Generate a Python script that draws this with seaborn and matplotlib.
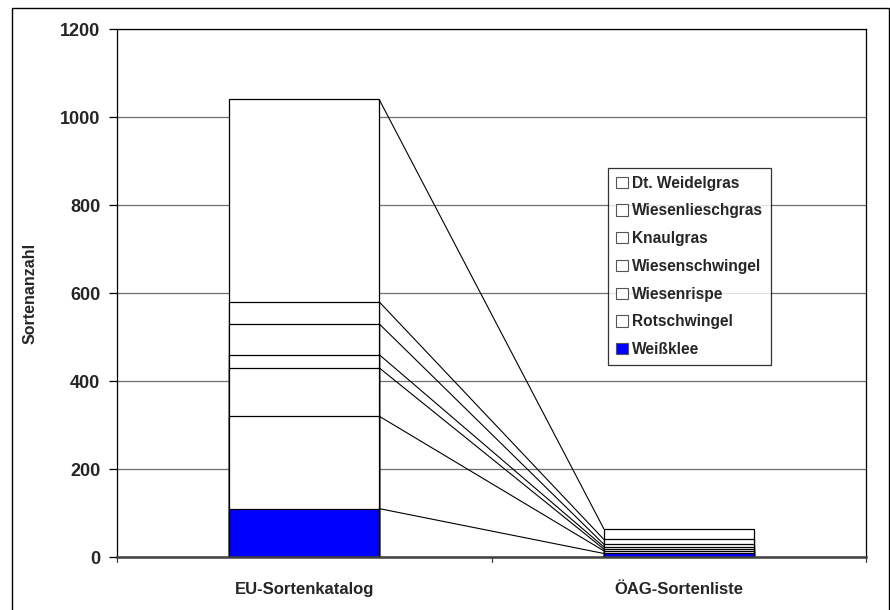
import matplotlib
matplotlib.use("Agg")
import matplotlib.pyplot as plt
from matplotlib.patches import Rectangle, Patch
import numpy as np
import pandas as pd
import seaborn as sns

# data (bottom to top of the stack)
categories = ["EU-Sortenkatalog", "ÖAG-Sortenliste"]
species = ["Weißklee", "Rotschwingel", "Wiesenrispe", "Wiesenschwingel",
           "Knaulgras", "Wiesenlieschgras", "Dt. Weidelgras"]
eu_counts = [110, 210, 110, 30, 70, 50, 460]
oeag_counts = [8, 6, 4, 5, 6, 11, 24]
fill_colors = ["#0000FF", "white", "white", "white", "white", "white", "white"]

sns.set_style("white")
plt.rcParams["font.family"] = ["Liberation Sans", "DejaVu Sans"]
plt.rcParams["font.weight"] = "bold"

eu_cum = np.cumsum(eu_counts)
oeag_cum = np.cumsum(oeag_counts)

fig = plt.figure(figsize=(8.9, 6.1), dpi=100)
ax = fig.add_axes([117 / 890, 1 - 557 / 610, (866 - 117) / 890, (557 - 29) / 610])

# stacked bars: draw cumulative totals from the top down so each layer overlaps
for i in range(len(species) - 1, -1, -1):
    df = pd.DataFrame({"cat": categories, "val": [eu_cum[i], oeag_cum[i]]})
    sns.barplot(data=df, x="cat", y="val", color=fill_colors[i], width=0.4,
                edgecolor="black", linewidth=0.9, saturation=1, ax=ax,
                order=categories)

# series lines between the bars
for i in range(len(species)):
    ax.plot([0.2, 0.8], [eu_cum[i], oeag_cum[i]], color="black", lw=0.8, zorder=3)

ax.set_xlim(-0.5, 1.5)
ax.set_ylim(0, 1200)
ax.set_yticks(range(0, 1201, 200))
ax.yaxis.grid(True, color="#6f6f6f", lw=0.9)
ax.set_axisbelow(True)

ax.set_xticks([0, 1])
ax.set_xticklabels(categories, fontsize=12, fontweight="bold")
ax.tick_params(axis="x", length=0, pad=18)
for xb in [-0.5, 0.5, 1.5]:
    ax.plot([xb, xb], [0, -12], color="#404040", lw=0.9, clip_on=False)
ax.tick_params(axis="y", direction="out", length=6, width=0.9, color="black",
               left=True, labelsize=13, pad=6)
for lbl in ax.get_yticklabels():
    lbl.set_fontweight("bold")

ax.set_xlabel("")
ax.set_ylabel("Sortenanzahl", fontsize=11.5, fontweight="bold", labelpad=16)

for side in ["top", "right", "left"]:
    ax.spines[side].set_visible(True)
    ax.spines[side].set_color("black")
    ax.spines[side].set_linewidth(0.9)
ax.spines["bottom"].set_color("#404040")
ax.spines["bottom"].set_linewidth(1.8)

handles = [Patch(facecolor=fill_colors[i], edgecolor="#555555", linewidth=0.8,
                 label=species[i]) for i in range(len(species) - 1, -1, -1)]
leg = ax.legend(handles=handles, loc="upper left", bbox_to_anchor=(0.656, 0.737),
                prop={"size": 11.2, "weight": "bold"}, frameon=True, fancybox=False,
                handlelength=0.75, handleheight=0.75, handletextpad=0.3,
                labelspacing=0.82, borderpad=0.5, borderaxespad=0)
leg.get_frame().set_edgecolor("black")
leg.get_frame().set_linewidth(0.9)

# chart area border
fig.patches.append(Rectangle((12 / 890, -0.01), (889 - 12) / 890, 1 - 8 / 610 + 0.01,
                             transform=fig.transFigure, fill=False,
                             edgecolor="black", lw=1.0))

fig.savefig("out.png", dpi=100)
